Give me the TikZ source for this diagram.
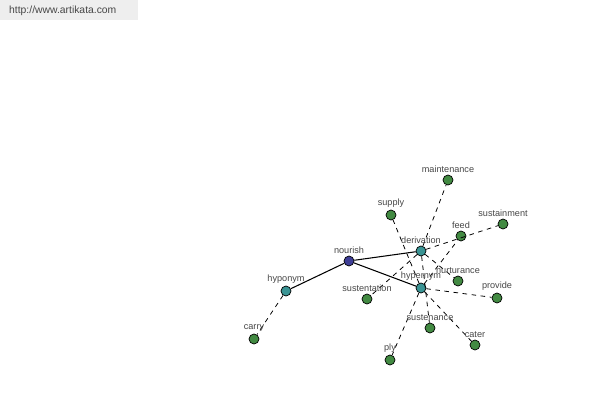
\documentclass[tikz,border=0pt]{standalone}
\usepackage{fontspec}
\setmainfont{Liberation Sans}
\usetikzlibrary{positioning}

\definecolor{rootblue}{RGB}{62,62,150}
\definecolor{relteal}{RGB}{58,148,148}
\definecolor{wordgreen}{RGB}{66,138,66}
\definecolor{labelgray}{RGB}{70,70,70}
\definecolor{headgray}{RGB}{238,238,238}

\begin{document}
\begin{tikzpicture}[x=0.02cm, y=-0.02cm]

    % Canvas (600 x 400 px)
    \useasboundingbox (0,0) rectangle (600,400);

    \tikzset{
        dot/.style={circle, draw=black, line width=0.4pt, minimum size=0.2cm, inner sep=0pt},
        root/.style={dot, fill=rootblue},
        rel/.style={dot, fill=relteal},
        word/.style={dot, fill=wordgreen},
        lbl/.style={above=0.5pt, text=labelgray, font=\fontsize{5.2}{6}\selectfont, inner sep=1pt},
        strong/.style={line width=0.6pt},
        weak/.style={dash pattern=on 2.6pt off 2.6pt, line width=0.45pt}
    }

    % Header
    \fill[headgray] (0,0) rectangle (138,20);
    \node[anchor=west, text=labelgray, font=\fontsize{5.9}{7}\selectfont] (site) at (3,11) {http://www.artikata.com};

    % Nodes
    \node[root] (nourish) at (349,261) {};
    \node[rel] (derivation) at (421,251) {};
    \node[rel] (hypernym) at (421,288) {};
    \node[rel] (hyponym) at (286,291) {};
    \node[word] (carry) at (254,339) {};
    \node[word] (maintenance) at (448,180) {};
    \node[word] (supply) at (391,215) {};
    \node[word] (feed) at (461,236) {};
    \node[word] (sustainment) at (503,224) {};
    \node[word] (nurturance) at (458,281) {};
    \node[word] (provide) at (497,298) {};
    \node[word] (sustentation) at (367,299) {};
    \node[word] (sustenance) at (430,328) {};
    \node[word] (cater) at (475,345) {};
    \node[word] (ply) at (390,360) {};

    % Edges
    \draw[strong] (nourish) -- (derivation);
    \draw[strong] (nourish) -- (hypernym);
    \draw[strong] (nourish) -- (hyponym);
    \draw[weak] (hyponym) -- (carry);
    \foreach \w in {maintenance, sustainment, nurturance, sustentation, sustenance}
        \draw[weak] (derivation) -- (\w);
    \foreach \w in {supply, feed, provide, cater, ply}
        \draw[weak] (hypernym) -- (\w);

    % Labels
    \foreach \n in {nourish, derivation, hypernym, hyponym, carry, maintenance, supply, feed, sustainment, nurturance, provide, sustentation, sustenance, cater, ply}
        \node[lbl] (\n-lbl) at ([yshift=-0.6pt]\n.north) {\n};

\end{tikzpicture}
\end{document}
